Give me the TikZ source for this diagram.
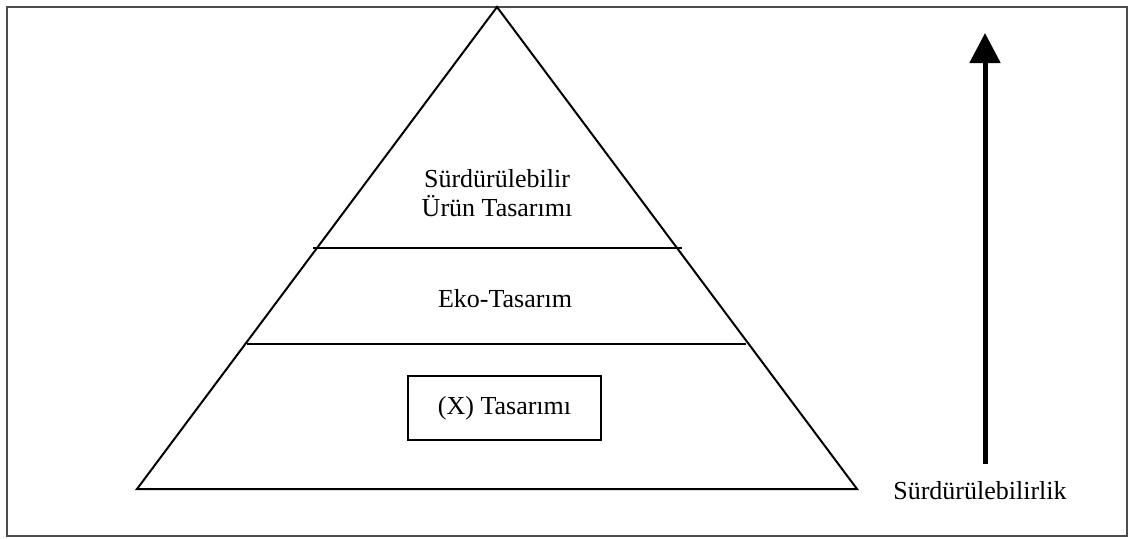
\documentclass[tikz,border=0pt]{standalone}
\usepackage{fontspec}
\setmainfont{Liberation Serif}
\usetikzlibrary{arrows.meta,positioning}

\begin{document}
\begin{tikzpicture}[
    x=1pt, y=-1pt,
    every node/.style={font=\fontsize{26}{29}\selectfont, inner sep=0pt},
    edge/.style={draw, line width=2pt},
    layer/.style={align=center, anchor=base},
    framebox/.style={draw, line width=2pt, minimum width=193pt, minimum height=64pt},
]
    \useasboundingbox (0,0) rectangle (1129,538);
    \draw[line width=2pt, black!70] (7,7) rectangle (1127,536);

    % pyramid
    \coordinate (apex) at (497,7);
    \coordinate (baseL) at (137,489);
    \coordinate (baseR) at (857,489);
    \draw[edge, line join=miter] (apex) -- (baseL) -- (baseR) -- cycle;
    \coordinate (topL) at (313,248);
    \coordinate (topR) at (682,248);
    \coordinate (midL) at (247,344);
    \coordinate (midR) at (746,344);
    \draw[edge] (topL) -- (topR);
    \draw[edge] (midL) -- (midR);

    % layers
    \node[layer] (sut) at (497,216) {S\"urd\"ur\"ulebilir\\\"Ur\"un Tasar\i m\i};
    \node[layer] (eko) at (505,307) {Eko-Tasar\i m};
    \node[framebox] (xbox) at (504.5,408) {(X) Tasar\i m\i};

    % arrow
    \coordinate (arrowS) at (985,464);
    \coordinate (arrowE) at (985,33);
    \draw[line width=5pt, -{Triangle[length=30pt, width=30pt]}] (arrowS) -- (arrowE);
    \node[anchor=base] (sustain) at (980,499) {S\"urd\"ur\"ulebilirlik};
\end{tikzpicture}
\end{document}
